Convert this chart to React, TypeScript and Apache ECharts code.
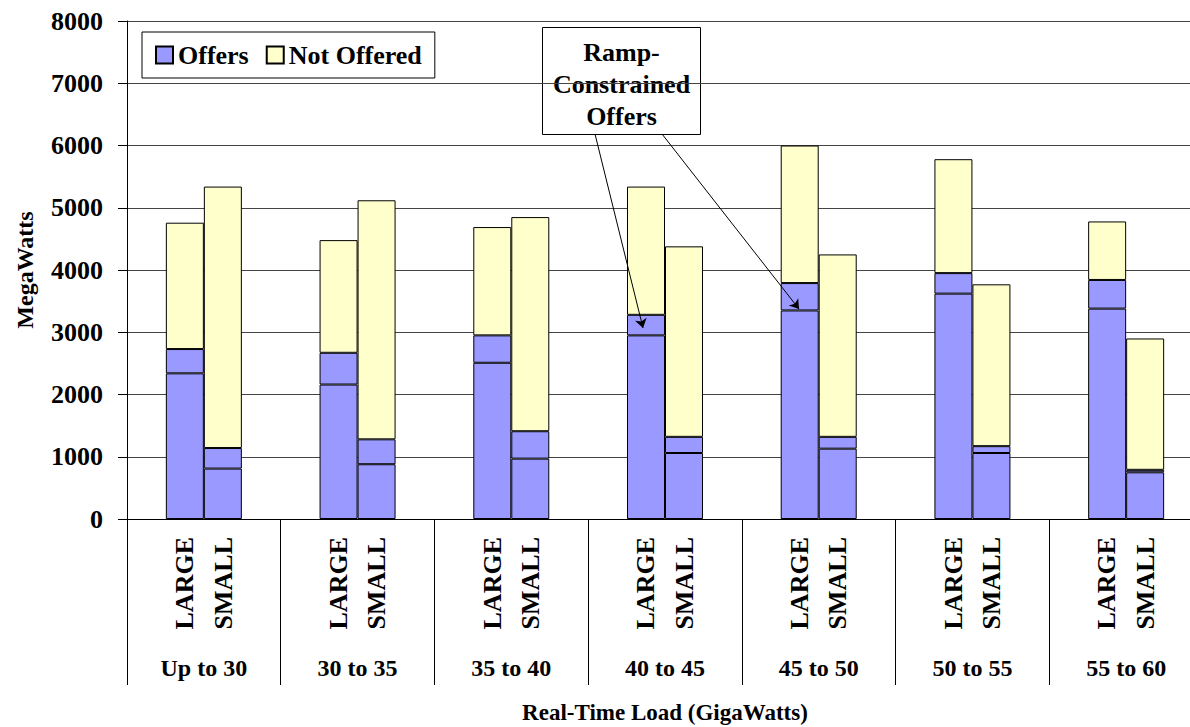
import React, { useEffect, useRef } from "react";
import * as echarts from "echarts";

const categories = ["Up to 30", "30 to 35", "35 to 40", "40 to 45", "45 to 50", "50 to 55", "55 to 60"];
const sizes = ["LARGE", "SMALL"];
// MegaWatts per segment
const largeOffers = [2340, 2160, 2510, 2950, 3350, 3620, 3380];
const largeRamp = [390, 510, 440, 330, 440, 330, 460];
const largeNotOffered = [2030, 1810, 1740, 2060, 2210, 1830, 940];
const smallOffers = [810, 880, 970, 1060, 1130, 1060, 750];
const smallRamp = [330, 400, 440, 260, 190, 110, 40];
const smallNotOffered = [4200, 3840, 3440, 3060, 2930, 2600, 2110];
const yMin = 0;
const yMax = 8000;
const yStep = 1000;

const FONT = "'Liberation Serif', 'Times New Roman', serif";
const BLUE = "#9999FF";
const YELLOW = "#FFFFCC";

export default function App() {
  const ref = useRef<HTMLDivElement>(null);
  useEffect(() => {
    document.body.style.margin = "0";
    const chart = echarts.init(ref.current!, null, { renderer: "svg" });
    const bar = (name: string, stack: string, data: number[], color: string) => ({
      type: "bar",
      name,
      stack,
      data,
      barWidth: 38,
      barGap: "0%",
      itemStyle: { color, borderColor: "#000", borderWidth: 1 },
      emphasis: { disabled: true },
    });
    const sizeLabels = categories.flatMap(() => ["", ...sizes, ""]);
    const notOfferedSmall: any = bar("Not Offered", "S", smallNotOffered, YELLOW);
    notOfferedSmall.markLine = {
      silent: true,
      symbol: ["none", "arrow"],
      symbolSize: 9,
      label: { show: false },
      lineStyle: { color: "#000", width: 1, type: "solid" },
      data: [
        [{ x: 595, y: 134 }, { x: 643, y: 328 }],
        [{ x: 662, y: 134 }, { x: 799, y: 309 }],
      ],
    };
    chart.setOption({
      animation: false,
      textStyle: { fontFamily: FONT },
      grid: { left: 127, top: 21, width: 1076, height: 498, outerBoundsMode: "none", containLabel: false },
      legend: {
        data: ["Offers", "Not Offered"],
        left: 142,
        top: 32,
        padding: [10, 13],
        itemGap: 17,
        itemWidth: 17,
        itemHeight: 17,
        icon: "rect",
        borderColor: "#000",
        borderWidth: 1,
        backgroundColor: "#fff",
        textStyle: { fontFamily: FONT, fontWeight: "bold", fontSize: 26, color: "#000" },
      },
      xAxis: [
        {
          type: "category",
          data: categories,
          position: "bottom",
          axisLine: { lineStyle: { color: "#000", width: 1 } },
          axisTick: { show: true, interval: 0, length: 166, lineStyle: { color: "#000" } },
          axisLabel: {
            interval: 0,
            margin: 137,
            fontFamily: FONT,
            fontWeight: "bold",
            fontSize: 24,
            color: "#000",
          },
          name: "Real-Time Load (GigaWatts)",
          nameLocation: "middle",
          nameGap: 182,
          nameTextStyle: { fontFamily: FONT, fontWeight: "bold", fontSize: 23, color: "#000" },
        },
        {
          type: "category",
          data: sizeLabels,
          position: "bottom",
          axisLine: { show: false },
          axisTick: { show: false },
          axisLabel: {
            interval: 0,
            rotate: 90,
            margin: 18,
            fontFamily: FONT,
            fontWeight: "bold",
            fontSize: 26,
            color: "#000",
          },
        },
      ],
      yAxis: {
        type: "value",
        min: yMin,
        max: yMax,
        interval: yStep,
        axisLine: { show: true, lineStyle: { color: "#000", width: 1 } },
        axisTick: { show: true, length: 9, lineStyle: { color: "#000" } },
        axisLabel: {
          margin: 24,
          formatter: (v: number) => String(v),
          fontFamily: FONT,
          fontWeight: "bold",
          fontSize: 26,
          color: "#000",
        },
        splitLine: { show: true, lineStyle: { color: "#444", width: 1 } },
        name: "MegaWatts",
        nameLocation: "middle",
        nameRotate: 90,
        nameGap: 90,
        nameTextStyle: { fontFamily: FONT, fontWeight: "bold", fontSize: 24, color: "#000" },
      },
      series: [
        bar("Offers", "L", largeOffers, BLUE),
        bar("Offers", "L", largeRamp, BLUE),
        bar("Not Offered", "L", largeNotOffered, YELLOW),
        bar("Offers", "S", smallOffers, BLUE),
        bar("Offers", "S", smallRamp, BLUE),
        notOfferedSmall,
      ],
      graphic: [
        {
          type: "group",
          left: 542,
          top: 27,
          children: [
            {
              type: "rect",
              shape: { x: 0, y: 0, width: 158, height: 107 },
              style: { fill: "#fff", stroke: "#000", lineWidth: 1 },
            },
            {
              type: "text",
              x: 79,
              y: 25,
              style: { text: "Ramp-", font: `bold 26px ${FONT}`, fill: "#000", textAlign: "center", textVerticalAlign: "middle" },
            },
            {
              type: "text",
              x: 79,
              y: 57,
              style: { text: "Constrained", font: `bold 26px ${FONT}`, fill: "#000", textAlign: "center", textVerticalAlign: "middle" },
            },
            {
              type: "text",
              x: 79,
              y: 89,
              style: { text: "Offers", font: `bold 26px ${FONT}`, fill: "#000", textAlign: "center", textVerticalAlign: "middle" },
            },
          ],
        },
      ],
    });
    return () => chart.dispose();
  }, []);
  return (
    <div style={{ width: 1190, height: 727, overflow: "hidden", position: "relative" }}>
      <div ref={ref} style={{ width: 1220, height: 727 }} />
    </div>
  );
}
